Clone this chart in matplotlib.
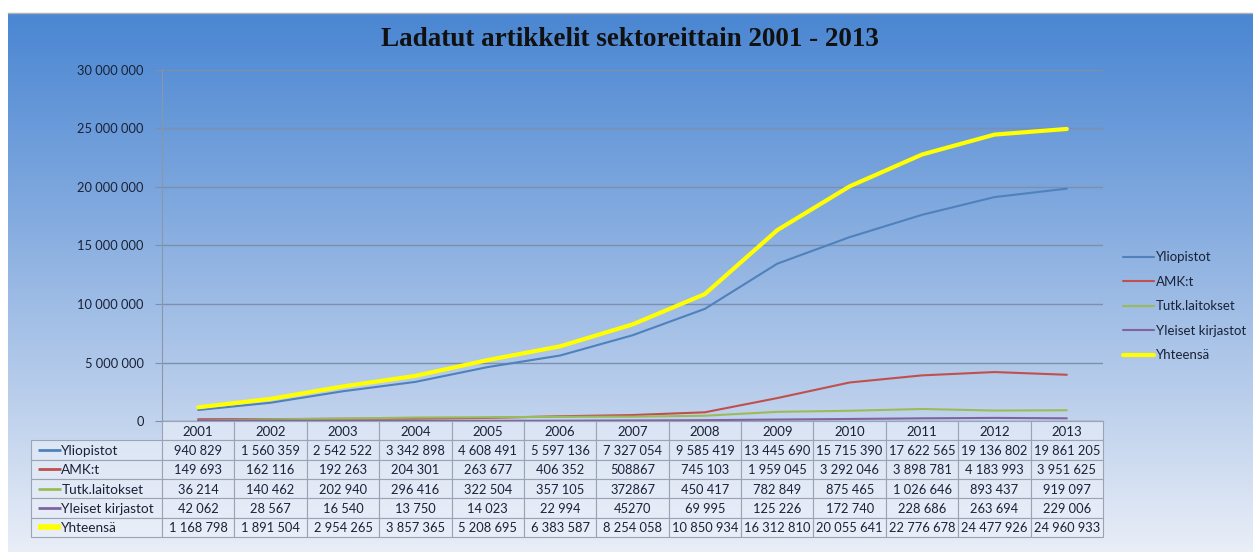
import numpy as np
import matplotlib
matplotlib.use('Agg')
import matplotlib.pyplot as plt
from matplotlib.colors import LinearSegmentedColormap
from matplotlib.patches import Rectangle

years = [2001, 2002, 2003, 2004, 2005, 2006, 2007, 2008, 2009, 2010, 2011, 2012, 2013]
series_names = ['Yliopistot', 'AMK:t', 'Tutk.laitokset', 'Yleiset kirjastot', 'Yhteensä']
yliopistot = [940829, 1560359, 2542522, 3342898, 4608491, 5597136, 7327054, 9585419,
              13445690, 15715390, 17622565, 19136802, 19861205]
amk = [149693, 162116, 192263, 204301, 263677, 406352, 508867, 745103,
       1959045, 3292046, 3898781, 4183993, 3951625]
tutk = [36214, 140462, 202940, 296416, 322504, 357105, 372867, 450417,
        782849, 875465, 1026646, 893437, 919097]
yleiset = [42062, 28567, 16540, 13750, 14023, 22994, 45270, 69995,
           125226, 172740, 228686, 263694, 229006]
yhteensa = [1168798, 1891504, 2954265, 3857365, 5208695, 6383587, 8254058, 10850934,
            16312810, 20055641, 22776678, 24477926, 24960933]
y_ticks = [0, 5000000, 10000000, 15000000, 20000000, 25000000, 30000000]
title = 'Ladatut artikkelit sektoreittain 2001 - 2013'
# cells shown without thousands separators in the original table
plain_cells = {('AMK:t', 2007), ('Tutk.laitokset', 2007), ('Yleiset kirjastot', 2007)}

data = [yliopistot, amk, tutk, yleiset, yhteensa]
colors = ['#4f81bd', '#c0504d', '#9bbb59', '#8064a2', '#ffff00']
widths = [1.5, 1.5, 1.5, 1.5, 3.0]

W, H = 1253, 552
fig = plt.figure(figsize=(W / 100, H / 100), dpi=100)
fig.patch.set_facecolor('white')

# gradient background
bg = fig.add_axes([8 / W, 0, 1 - 8 / W, (H - 13) / H])
cmap = LinearSegmentedColormap.from_list('bg', [(0.0, '#4a86d2'), (0.35, '#7fa8de'),
                                                (0.7, '#b8cdeb'), (1.0, '#e9eef7')])
grad = np.linspace(0, 1, 256).reshape(-1, 1)
bg.imshow(grad, aspect='auto', cmap=cmap, extent=[0, 1, 0, 1], origin='upper')
bg.set_axis_off()
fig.add_artist(plt.Line2D([8 / W, 1], [(H - 13) / H] * 2, color='#b0b0b0', lw=1))

font = 'Lato'
txtcol = '#1a2238'

ax = fig.add_axes([162 / W, (H - 421) / H, 941 / W, 351 / H])
ax.set_facecolor('none')
x = np.arange(len(years))
for i in range(len(data)):
    ax.plot(x, data[i], color=colors[i], lw=widths[i], label=series_names[i],
            solid_capstyle='round', zorder=3 + (1 if i == 4 else 0))
ax.set_xlim(-0.5, len(years) - 0.5)
ax.set_ylim(0, 30000000)
ax.set_yticks(y_ticks)
ax.set_yticklabels([f'{v:,}'.replace(',', ' ') for v in y_ticks],
                   fontsize=9.3, color=txtcol, family=font)
ax.set_xticks([])
ax.grid(axis='y', color='#7d90ab', lw=1)
ax.set_axisbelow(True)
for s in ['top', 'right']:
    ax.spines[s].set_visible(False)
for s in ['left', 'bottom']:
    ax.spines[s].set_color('#8a97a8')
ax.tick_params(axis='y', length=5, color='#7d90ab', pad=8)

# legend
handles, labels = ax.get_legend_handles_labels()
leg = fig.legend(handles, labels, loc='upper left',
                 bbox_to_anchor=(1118 / W, (H - 246) / H), frameon=False,
                 prop={'family': font, 'size': 9.5}, handlelength=2.35,
                 labelspacing=0.95, handletextpad=0.1, borderaxespad=0)
for t in leg.get_texts():
    t.set_color(txtcol)

# title
fig.text(630 / W, (H - 40) / H, title, ha='center', va='center',
         family='Liberation Serif', weight='bold', fontsize=19.5, color='#111111')

# table
tax = fig.add_axes([162 / W, (H - 537) / H, 941 / W, 116 / H])
tax.set_xlim(-0.5, len(years) - 0.5)
tax.set_ylim(6, 0)
tax.set_axis_off()
colw = 941 / len(years)
lab_left = -0.5 - (162 - 31) / colw
cell_fc = (0.93, 0.95, 0.98, 0.55)
edge = '#9aa4b4'
for j, yr in enumerate(years):
    tax.add_patch(Rectangle((j - 0.5, 0), 1, 1, fc=cell_fc, ec=edge, lw=0.8, clip_on=False))
    tax.text(j, 0.55, str(yr), ha='center', va='center', fontsize=9.5,
             family=font, color=txtcol)
for r, (name, vals) in enumerate(zip(series_names, data)):
    row = r + 1
    tax.add_patch(Rectangle((lab_left, row), -0.5 - lab_left, 1, fc=cell_fc, ec=edge,
                            lw=0.8, clip_on=False))
    tax.plot([lab_left + 0.1, lab_left + 0.42], [row + 0.5, row + 0.5], color=colors[r],
             lw=2.0 if r < 4 else 4, clip_on=False, solid_capstyle='butt')
    tax.text(lab_left + 0.42, row + 0.55, name, ha='left', va='center', fontsize=9.8,
             family=font, color=txtcol)
    for j, yr in enumerate(years):
        tax.add_patch(Rectangle((j - 0.5, row), 1, 1, fc=cell_fc, ec=edge, lw=0.8,
                                clip_on=False))
        v = vals[j]
        s = str(v) if (name, yr) in plain_cells else f'{v:,}'.replace(',', ' ')
        tax.text(j, row + 0.55, s, ha='center', va='center', fontsize=9.3,
                 family=font, color=txtcol)

fig.savefig('out.png', dpi=100)
